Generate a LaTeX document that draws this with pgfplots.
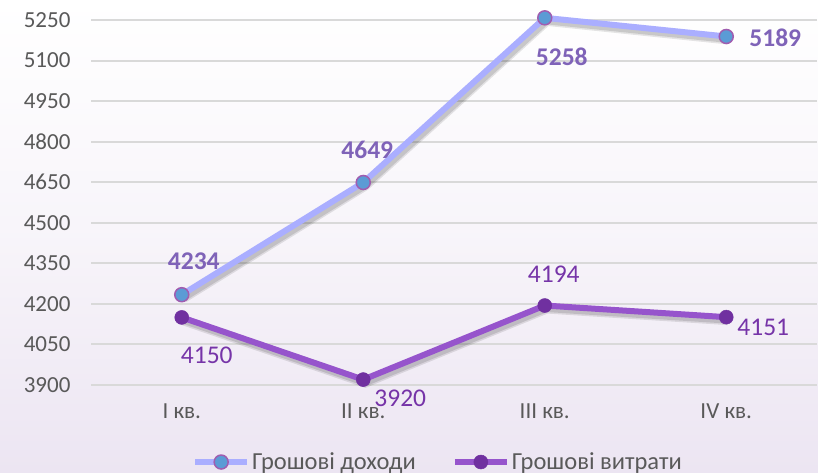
\documentclass[border=0pt]{standalone}
\usepackage{pgfplots}
\pgfplotsset{compat=1.18}
\usepackage{pgfplotstable}
\usepackage{fontspec}
\setmainfont{Carlito}

\definecolor{incline}{RGB}{170,174,255}
\definecolor{incfill}{RGB}{91,155,213}
\definecolor{incdraw}{RGB}{160,93,176}
\definecolor{inclabel}{RGB}{127,99,184}
\definecolor{expline}{RGB}{150,84,204}
\definecolor{expmark}{RGB}{112,48,160}
\definecolor{explabel}{RGB}{118,52,168}
\definecolor{gridc}{RGB}{217,217,217}
\definecolor{tickc}{RGB}{89,89,89}
\definecolor{bgbot}{RGB}{236,229,242}

% x, y, label offsets (dx, dy) in pt
\pgfplotstableread{
x y dx dy
0 4234 12 33
1 4649 4 33
2 5258 17 -39
3 5189 49 -1
}\income
\pgfplotstableread{
x y dx dy
0 4150 25 -38
1 3920 37 -19
2 4194 9 31
3 4151 37 -10
}\expense

\begin{document}
\begin{tikzpicture}
\shade[top color=white, bottom color=bgbot, middle color=white!60!bgbot] (0,0) rectangle (818pt,472pt);
\begin{axis}[
    at={(91pt,87pt)}, anchor=south west,
    width=726pt, height=365pt, scale only axis,
    xmin=-0.5, xmax=3.5,
    ymin=3900, ymax=5250,
    ytick={3900,4050,...,5250},
    xtick={0,1,2,3},
    xticklabels={I кв., II кв., III кв., IV кв.},
    axis line style={draw=none},
    major tick length=0pt,
    ymajorgrids=true,
    grid style={gridc, line width=2pt},
    tick label style={font=\fontsize{23}{27}\selectfont, text=tickc},
    /pgf/number format/assume math mode=true,
    /pgf/number format/1000 sep={},
    yticklabel style={xshift=-17pt},
    xticklabel style={yshift=-15pt},
    clip=false,
    legend style={at={(0.478,-0.211)}, anchor=center, draw=none, fill=none,
        font=\fontsize{24.5}{29}\selectfont, text=tickc,
        /tikz/every even column/.append style={column sep=34pt}},
    legend columns=2,
    legend image code/.code={
        \draw[#1, mark repeat=2, mark phase=2] plot coordinates {(0pt,0pt) (26pt,0pt) (52pt,0pt)};
    },
    visualization depends on={\thisrow{dx} \as \dx},
    visualization depends on={\thisrow{dy} \as \dy},
]
% shadows
\addplot[forget plot, black, opacity=0.10, line width=10pt, xshift=2pt, yshift=-3pt] table[x=x, y=y] {\income};
\addplot[forget plot, black, opacity=0.12, line width=7pt, xshift=2pt, yshift=-3pt] table[x=x, y=y] {\income};
\addplot[forget plot, black, opacity=0.10, line width=10pt, xshift=2pt, yshift=-3pt] table[x=x, y=y] {\expense};
\addplot[forget plot, black, opacity=0.12, line width=7pt, xshift=2pt, yshift=-3pt] table[x=x, y=y] {\expense};

\addplot[incline, line width=6pt, mark=*,
    mark options={fill=incfill, draw=incdraw, line width=1.5pt, scale=1},
    mark size=7pt,
    nodes near coords,
    every node near coord/.append style={anchor=center, xshift=\dx pt, yshift=\dy pt,
        font=\fontsize{25.5}{29}\selectfont\bfseries, text=inclabel},
] table[x=x, y=y] {\income};
\addlegendentry{Грошові доходи}

\addplot[expline, line width=6pt, mark=*,
    mark options={fill=expmark, draw=expmark, line width=0.5pt},
    mark size=7pt,
    nodes near coords,
    every node near coord/.append style={anchor=center, xshift=\dx pt, yshift=\dy pt,
        font=\fontsize{25.5}{29}\selectfont, text=explabel},
] table[x=x, y=y] {\expense};
\addlegendentry{Грошові витрати}
\end{axis}
\end{tikzpicture}
\end{document}
